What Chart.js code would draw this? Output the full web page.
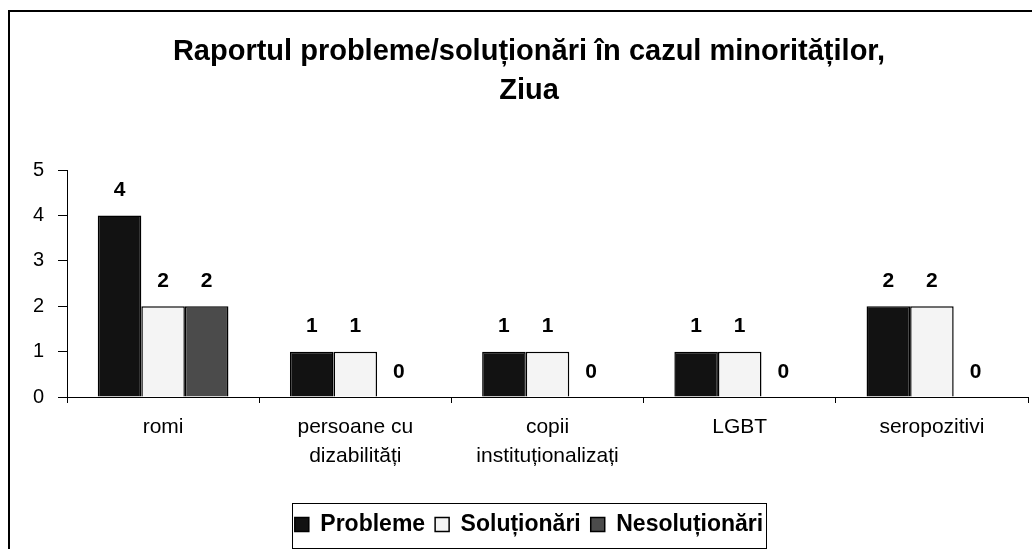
<!DOCTYPE html>
<html>
<head>
<meta charset="utf-8">
<script src="https://cdn.jsdelivr.net/npm/chart.js@4/dist/chart.umd.min.js"></script>
<style>
  html, body { margin: 0; padding: 0; background: #fff; }
  canvas { display: block; }
</style>
</head>
<body>
<canvas id="chart" width="1032" height="549"></canvas>
<script>
// data
const categories = ["romi", ["persoane cu", "dizabilități"], ["copii", "instituționalizați"], "LGBT", "seropozitivi"];
const probleme = [4, 1, 1, 1, 2];
const solutionari = [2, 1, 1, 1, 2];
const nesolutionari = [2, 0, 0, 0, 0];
const yTicks = [0, 1, 2, 3, 4, 5];

const FONT = "'Liberation Sans', Arial, sans-serif";

// outer frame of the chart object
const framePlugin = {
    id: "frame",
    beforeDraw(chart) {
        const ctx = chart.ctx;
        ctx.save();
        ctx.fillStyle = "#fff";
        ctx.fillRect(0, 0, chart.width, chart.height);
        ctx.strokeStyle = "#000";
        ctx.lineWidth = 2;
        ctx.beginPath();
        ctx.moveTo(9, chart.height);
        ctx.lineTo(9, 11);
        ctx.lineTo(chart.width, 11);
        ctx.stroke();
        ctx.restore();
    },
};

// value labels above the bars
const valueLabels = {
    id: "valueLabels",
    afterDatasetsDraw(chart) {
        const ctx = chart.ctx;
        ctx.save();
        ctx.font = "bold 21px " + FONT;
        ctx.fillStyle = "#000";
        ctx.textAlign = "center";
        ctx.textBaseline = "middle";
        chart.data.datasets.forEach((ds, i) => {
            chart.getDatasetMeta(i).data.forEach((bar, j) => {
                ctx.fillText(String(ds.data[j]), bar.x, bar.y - 25);
            });
        });
        ctx.restore();
    },
};

// box around the legend
const legendBox = {
    id: "legendBox",
    afterDraw(chart) {
        const lg = chart.legend;
        if (!lg || !lg.legendHitBoxes.length) return;
        const boxes = lg.legendHitBoxes;
        const left = Math.min(...boxes.map((b) => b.left));
        const right = Math.max(...boxes.map((b) => b.left + b.width));
        const mid = boxes[0].top + boxes[0].height / 2;
        const ctx = chart.ctx;
        ctx.save();
        ctx.strokeStyle = "#000";
        ctx.lineWidth = 1;
        ctx.strokeRect(Math.round(left - 3) + 0.5, Math.round(mid - 22) + 0.5, Math.round(right - left + 6), 45);
        ctx.restore();
    },
};

new Chart(document.getElementById("chart"), {
    type: "bar",
    data: {
        labels: categories,
        datasets: [
            {
                label: "Probleme",
                data: probleme,
                backgroundColor: "#121212",
                borderColor: "#000",
                borderWidth: 1.5,
            },
            {
                label: "Soluționări",
                data: solutionari,
                backgroundColor: "#f4f4f4",
                borderColor: "#000",
                borderWidth: 1.5,
            },
            {
                label: "Nesoluționări",
                data: nesolutionari,
                backgroundColor: "#4b4b4b",
                borderColor: "#000",
                borderWidth: 1.5,
            },
        ],
    },
    options: {
        responsive: false,
        animation: false,
        devicePixelRatio: 1,
        layout: {
            padding: { left: 30, right: 4, top: 0, bottom: 3 },
        },
        datasets: {
            bar: {
                categoryPercentage: 0.68,
                barPercentage: 1,
            },
        },
        plugins: {
            title: {
                display: true,
                text: ["Raportul probleme/soluționări în cazul minorităților,", "Ziua"],
                color: "#000",
                font: { family: FONT, size: 29, weight: "bold", lineHeight: 1.33 },
                padding: { top: 33, bottom: 60 },
            },
            legend: {
                position: "bottom",
                labels: {
                    color: "#000",
                    font: { family: FONT, size: 23, weight: "bold" },
                    boxWidth: 14,
                    boxHeight: 14,
                    padding: 10,
                },
            },
            tooltip: { enabled: false },
        },
        scales: {
            x: {
                border: { display: true, color: "#000", width: 1 },
                grid: {
                    display: true,
                    drawOnChartArea: false,
                    drawTicks: true,
                    tickLength: 6,
                    color: "#000",
                    offset: true,
                },
                ticks: {
                    color: "#000",
                    font: { family: FONT, size: 21, lineHeight: 1.38 },
                    padding: 10,
                    maxRotation: 0,
                    autoSkip: false,
                },
                afterFit: (scale) => {
                    scale.height = 106;
                },
            },
            y: {
                min: 0,
                max: 5,
                border: { display: true, color: "#000", width: 1 },
                grid: {
                    display: true,
                    drawOnChartArea: false,
                    drawTicks: true,
                    tickLength: 9,
                    color: "#000",
                },
                afterBuildTicks: (scale) => {
                    scale.ticks = yTicks.map((v) => ({ value: v }));
                },
                ticks: {
                    color: "#000",
                    font: { family: FONT, size: 20 },
                    padding: 14,
                },
                afterFit: (scale) => {
                    scale.width = 37;
                },
            },
        },
    },
    plugins: [framePlugin, valueLabels, legendBox],
});
</script>
</body>
</html>
